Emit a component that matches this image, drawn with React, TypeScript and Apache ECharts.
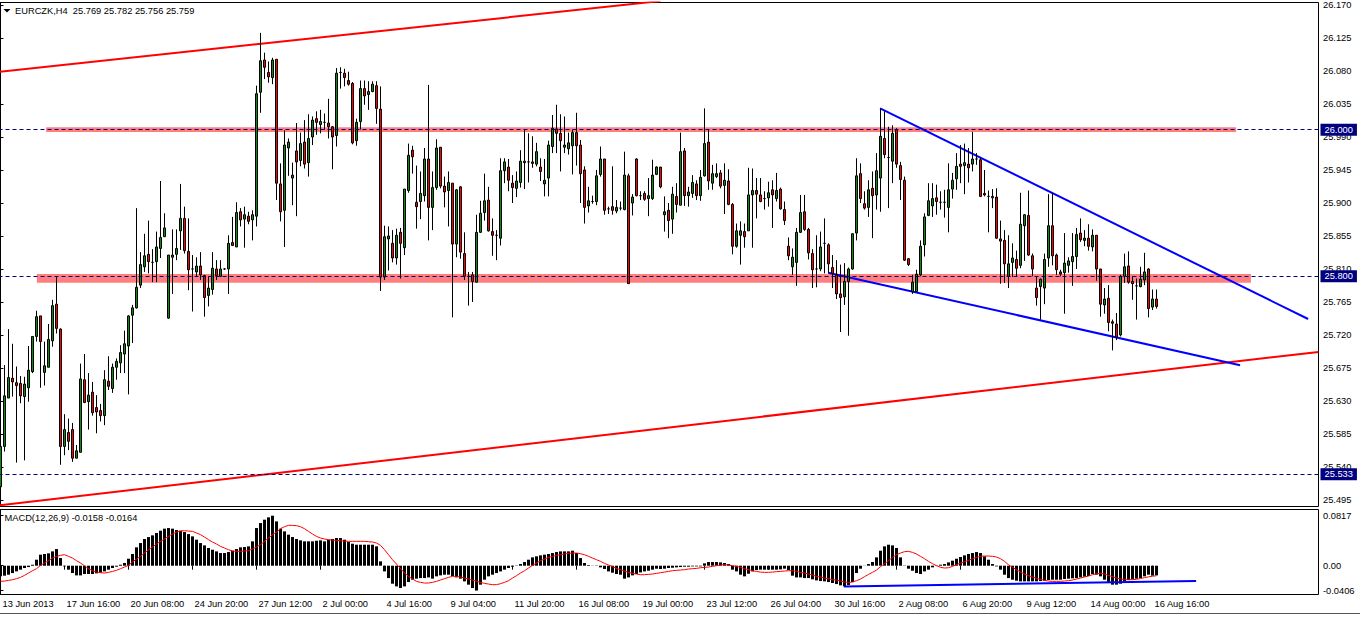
import React, { useEffect, useRef } from "react";
import * as echarts from "echarts";

const SYMBOL = "EURCZK,H4";

const OPEN = [
  25.513,25.568,25.634,25.661,25.655,25.654,25.636,25.648,25.670,25.718,
  25.746,25.669,25.676,25.712,25.762,25.728,25.568,25.587,25.591,25.552,
  25.560,25.659,25.629,25.642,25.621,25.617,25.610,25.657,25.647,25.676,
  25.682,25.694,25.705,25.747,25.757,25.788,25.813,25.830,25.819,25.820,
  25.838,25.854,25.743,25.826,25.830,25.862,25.879,25.834,25.810,25.806,
  25.814,25.801,25.774,25.782,25.810,25.800,25.810,25.810,25.846,25.840,
  25.888,25.878,25.882,25.877,25.882,26.051,26.095,26.078,26.071,26.096,
  25.926,25.890,25.975,25.934,25.971,25.958,25.983,25.955,25.990,26.015,
  26.007,26.010,26.009,26.004,25.992,26.078,26.077,26.067,26.063,25.985,
  26.011,26.056,26.048,26.052,26.060,26.028,25.799,25.851,25.845,25.825,
  25.860,25.839,25.917,25.972,25.901,25.902,25.910,25.960,25.894,25.921,
  25.976,25.923,25.917,25.927,25.844,25.922,25.831,25.800,25.802,25.792,
  25.860,25.887,25.904,25.861,25.856,25.852,25.944,25.949,25.927,25.920,
  25.928,25.955,25.956,25.956,25.953,25.949,25.926,25.934,25.977,26.001,
  25.995,25.976,25.974,25.978,25.996,25.979,25.945,25.896,25.902,25.902,
  25.939,25.960,25.892,25.895,25.889,25.893,25.891,25.937,25.900,25.960,
  25.910,25.913,25.906,25.906,25.939,25.949,25.884,25.890,25.878,25.909,
  25.897,25.971,25.910,25.913,25.926,25.910,25.937,25.983,25.927,25.936,
  25.941,25.924,25.930,25.898,25.841,25.856,25.861,25.862,25.911,25.917,
  25.911,25.906,25.907,25.918,25.906,25.919,25.891,25.841,25.813,25.819,
  25.860,25.888,25.864,25.831,25.810,25.810,25.845,25.843,25.812,25.802,
  25.776,25.772,25.793,25.810,25.859,25.940,25.899,25.894,25.920,25.911,
  25.934,25.988,25.962,25.957,26.000,25.951,25.931,25.824,25.779,25.779,
  25.802,25.843,25.883,25.896,25.907,25.901,25.901,25.894,25.919,25.933,
  25.953,25.951,25.953,25.953,25.960,25.959,25.913,25.909,25.909,25.908,
  25.851,25.849,25.800,25.819,25.823,25.815,25.869,25.883,25.828,25.784,
  25.786,25.784,25.825,25.869,25.829,25.806,25.805,25.815,25.820,25.827,
  25.859,25.849,25.852,25.840,25.856,25.810,25.761,25.770,25.738,25.735,
  25.720,25.800,25.814,25.793,25.787,25.786,25.795,25.810,25.758,25.769,
];

const HIGH = [
  25.600,25.679,25.728,25.708,25.677,25.664,25.663,25.705,25.718,25.753,
  25.746,25.711,25.735,25.768,25.799,25.729,25.612,25.606,25.600,25.570,
  25.681,25.694,25.668,25.656,25.638,25.626,25.672,25.691,25.681,25.688,
  25.706,25.726,25.747,25.761,25.893,25.833,25.858,25.876,25.837,25.861,
  25.930,25.886,25.829,25.864,25.864,25.926,25.895,25.879,25.829,25.826,
  25.833,25.802,25.800,25.833,25.822,25.822,25.811,25.856,25.881,25.901,
  25.893,25.895,25.888,25.890,26.060,26.132,26.105,26.093,26.098,26.096,
  25.954,25.999,25.988,25.955,26.009,25.996,26.013,26.021,26.018,26.025,
  26.027,26.022,26.042,26.005,26.084,26.085,26.083,26.079,26.065,26.015,
  26.067,26.067,26.066,26.066,26.066,26.059,25.869,25.868,25.863,25.865,
  25.866,25.919,25.981,25.978,25.951,25.943,25.975,26.061,25.943,25.987,
  25.976,25.936,25.943,25.927,25.919,25.923,25.860,25.806,25.806,25.884,
  25.903,25.940,25.922,25.879,25.863,25.961,25.961,25.960,25.938,25.943,
  25.972,26.000,25.995,25.991,25.982,25.961,25.960,25.985,26.020,26.034,
  26.021,26.018,25.996,26.000,26.023,25.986,25.950,25.922,25.910,25.945,
  25.977,25.960,25.895,25.950,25.904,25.902,25.970,25.940,25.912,25.961,
  25.916,25.916,25.934,25.959,25.950,25.949,25.909,25.900,25.922,25.927,
  25.996,25.975,25.922,25.938,25.931,25.945,26.029,26.000,25.952,25.954,
  25.945,25.954,25.946,25.900,25.872,25.875,25.872,25.948,25.947,25.934,
  25.934,25.916,25.929,25.931,25.941,25.921,25.902,25.853,25.838,25.866,
  25.911,25.911,25.866,25.837,25.856,25.861,25.879,25.845,25.829,25.822,
  25.816,25.818,25.812,25.859,25.961,25.954,25.916,25.931,25.943,25.968,
  26.029,26.025,26.004,26.006,26.002,25.956,25.936,25.825,25.802,25.809,
  25.849,25.886,25.927,25.927,25.925,25.916,25.918,25.954,25.941,25.968,
  25.979,25.981,25.975,25.997,25.968,25.962,25.945,25.917,25.919,25.920,
  25.876,25.863,25.856,25.845,25.835,25.914,25.885,25.917,25.831,25.800,
  25.797,25.831,25.912,25.914,25.831,25.809,25.859,25.826,25.859,25.866,
  25.879,25.863,25.871,25.864,25.856,25.810,25.784,25.788,25.741,25.750,
  25.802,25.831,25.834,25.800,25.797,25.813,25.832,25.811,25.782,25.782,
];

const LOW = [
  25.502,25.561,25.634,25.636,25.546,25.627,25.549,25.629,25.668,25.711,
  25.648,25.651,25.676,25.704,25.722,25.543,25.556,25.563,25.547,25.552,
  25.560,25.627,25.591,25.610,25.586,25.602,25.597,25.645,25.641,25.659,
  25.668,25.668,25.639,25.709,25.756,25.784,25.806,25.804,25.792,25.792,
  25.825,25.854,25.742,25.776,25.822,25.836,25.831,25.781,25.752,25.800,
  25.795,25.745,25.759,25.775,25.795,25.799,25.809,25.776,25.842,25.840,
  25.868,25.839,25.871,25.849,25.868,26.023,26.069,26.064,26.062,25.904,
  25.875,25.840,25.937,25.897,25.882,25.950,25.947,25.936,25.979,25.993,
  25.995,26.000,25.988,25.946,25.977,26.056,26.059,26.060,25.980,25.978,
  26.000,26.034,26.027,26.051,26.008,25.780,25.795,25.808,25.819,25.816,
  25.797,25.829,25.914,25.940,25.865,25.878,25.902,25.849,25.863,25.918,
  25.920,25.894,25.868,25.744,25.826,25.824,25.795,25.760,25.765,25.792,
  25.859,25.876,25.861,25.828,25.822,25.842,25.927,25.916,25.900,25.908,
  25.921,25.919,25.928,25.948,25.950,25.930,25.909,25.909,25.968,25.968,
  25.943,25.968,25.966,25.939,25.951,25.900,25.872,25.887,25.899,25.897,
  25.936,25.884,25.885,25.884,25.886,25.890,25.890,25.790,25.883,25.909,
  25.904,25.903,25.882,25.904,25.938,25.920,25.861,25.852,25.858,25.887,
  25.897,25.896,25.895,25.907,25.904,25.903,25.936,25.918,25.918,25.934,
  25.920,25.885,25.897,25.830,25.839,25.816,25.839,25.862,25.839,25.879,
  25.901,25.891,25.895,25.866,25.902,25.891,25.870,25.822,25.802,25.787,
  25.859,25.862,25.823,25.784,25.785,25.807,25.804,25.804,25.784,25.769,
  25.724,25.761,25.719,25.809,25.849,25.900,25.891,25.881,25.852,25.891,
  25.888,25.961,25.893,25.927,25.948,25.904,25.821,25.814,25.776,25.779,
  25.800,25.827,25.882,25.881,25.884,25.891,25.880,25.860,25.906,25.918,
  25.927,25.912,25.928,25.943,25.952,25.908,25.909,25.860,25.893,25.851,
  25.790,25.791,25.784,25.799,25.800,25.811,25.821,25.828,25.800,25.760,
  25.741,25.762,25.813,25.815,25.802,25.800,25.749,25.805,25.787,25.810,
  25.847,25.841,25.835,25.834,25.794,25.745,25.749,25.725,25.699,25.713,
  25.718,25.791,25.790,25.768,25.741,25.785,25.788,25.744,25.754,25.756,
];

const CLOSE = [
  25.568,25.637,25.662,25.656,25.651,25.637,25.653,25.672,25.718,25.745,
  25.711,25.678,25.714,25.760,25.729,25.568,25.591,25.575,25.552,25.562,
  25.660,25.628,25.638,25.614,25.615,25.610,25.659,25.650,25.676,25.684,
  25.696,25.708,25.746,25.757,25.785,25.816,25.828,25.820,25.819,25.840,
  25.853,25.866,25.829,25.829,25.838,25.879,25.835,25.809,25.810,25.814,
  25.802,25.771,25.784,25.811,25.801,25.810,25.810,25.845,25.842,25.887,
  25.877,25.884,25.875,25.884,26.049,26.094,26.085,26.072,26.095,25.927,
  25.888,25.979,25.983,25.938,25.956,25.981,25.953,25.988,26.013,26.010,
  26.011,26.010,26.004,25.990,26.077,26.078,26.071,26.062,25.982,26.010,
  26.056,26.046,26.052,26.062,26.029,25.799,25.854,25.855,25.825,25.856,
  25.845,25.919,25.965,25.963,25.895,25.913,25.960,25.894,25.921,25.975,
  25.923,25.915,25.928,25.844,25.918,25.833,25.800,25.800,25.793,25.860,
  25.886,25.903,25.862,25.856,25.856,25.944,25.956,25.931,25.921,25.930,
  25.957,25.957,25.956,25.954,25.970,25.943,25.931,25.979,26.002,25.995,
  25.985,25.979,25.982,25.996,25.978,25.940,25.894,25.903,25.902,25.937,
  25.960,25.890,25.892,25.890,25.894,25.893,25.938,25.790,25.908,25.910,
  25.910,25.905,25.910,25.938,25.949,25.922,25.888,25.876,25.912,25.898,
  25.970,25.910,25.915,25.928,25.910,25.935,25.981,25.930,25.940,25.940,
  25.923,25.931,25.898,25.841,25.862,25.862,25.854,25.911,25.917,25.912,
  25.902,25.906,25.914,25.911,25.917,25.892,25.876,25.828,25.826,25.860,
  25.887,25.864,25.832,25.809,25.810,25.840,25.845,25.817,25.804,25.776,
  25.771,25.793,25.810,25.858,25.937,25.906,25.893,25.918,25.910,25.944,
  25.991,25.966,25.962,25.995,25.953,25.932,25.822,25.816,25.792,25.803,
  25.841,25.881,25.903,25.906,25.902,25.901,25.901,25.918,25.931,25.950,
  25.950,25.955,25.948,25.960,25.960,25.909,25.911,25.909,25.907,25.852,
  25.848,25.817,25.817,25.825,25.811,25.871,25.884,25.829,25.810,25.771,
  25.796,25.823,25.869,25.828,25.809,25.803,25.818,25.821,25.827,25.857,
  25.850,25.852,25.841,25.856,25.810,25.762,25.769,25.737,25.736,25.717,
  25.800,25.813,25.792,25.790,25.787,25.796,25.806,25.756,25.769,25.759,
];

const MACD_HIST = [
  -0.0174,-0.0163,-0.0147,-0.0120,-0.0093,-0.0065,-0.0038,-0.0022,0.0016,0.0098,
  0.0180,0.0191,0.0202,0.0234,0.0272,0.0125,-0.0011,-0.0065,-0.0120,-0.0158,
  -0.0158,-0.0136,-0.0136,-0.0136,-0.0125,-0.0114,-0.0093,-0.0065,-0.0038,-0.0016,
  0.0016,0.0044,0.0114,0.0191,0.0300,0.0370,0.0436,0.0468,0.0496,0.0534,
  0.0572,0.0605,0.0615,0.0605,0.0583,0.0572,0.0550,0.0517,0.0479,0.0425,
  0.0370,0.0332,0.0289,0.0261,0.0234,0.0207,0.0207,0.0223,0.0245,0.0272,
  0.0300,0.0305,0.0316,0.0398,0.0615,0.0697,0.0752,0.0790,0.0817,0.0724,
  0.0605,0.0561,0.0507,0.0468,0.0436,0.0414,0.0398,0.0398,0.0398,0.0408,
  0.0414,0.0398,0.0425,0.0436,0.0452,0.0452,0.0425,0.0387,0.0359,0.0343,
  0.0343,0.0343,0.0343,0.0343,0.0316,0.0071,-0.0093,-0.0202,-0.0294,-0.0338,
  -0.0365,-0.0338,-0.0267,-0.0229,-0.0212,-0.0202,-0.0202,-0.0191,-0.0212,-0.0174,
  -0.0158,-0.0147,-0.0147,-0.0169,-0.0191,-0.0212,-0.0256,-0.0310,-0.0365,-0.0406,
  -0.0310,-0.0229,-0.0174,-0.0147,-0.0120,-0.0093,-0.0065,-0.0038,-0.0016,0.0005,
  0.0027,0.0060,0.0098,0.0136,0.0153,0.0169,0.0180,0.0191,0.0207,0.0223,
  0.0234,0.0234,0.0234,0.0245,0.0207,0.0125,0.0044,0.0011,0.0003,0.0005,
  -0.0027,-0.0054,-0.0093,-0.0114,-0.0136,-0.0147,-0.0212,-0.0191,-0.0158,-0.0136,
  -0.0109,-0.0093,-0.0082,-0.0065,-0.0049,-0.0054,-0.0049,-0.0038,-0.0033,-0.0027,
  -0.0022,-0.0016,-0.0016,-0.0011,-0.0011,-0.0011,0.0038,0.0060,0.0060,0.0060,
  0.0054,0.0044,0.0027,-0.0065,-0.0093,-0.0147,-0.0174,-0.0131,-0.0093,-0.0071,
  -0.0065,-0.0065,-0.0065,-0.0065,-0.0065,-0.0060,-0.0049,-0.0071,-0.0163,-0.0191,
  -0.0191,-0.0202,-0.0202,-0.0223,-0.0240,-0.0251,-0.0256,-0.0267,-0.0283,-0.0300,
  -0.0321,-0.0338,-0.0316,-0.0267,-0.0120,-0.0049,-0.0003,0.0027,0.0060,0.0136,
  0.0245,0.0316,0.0343,0.0332,0.0289,0.0136,0.0005,-0.0049,-0.0082,-0.0120,
  -0.0136,-0.0093,-0.0065,-0.0027,-0.0005,0.0016,0.0027,0.0054,0.0082,0.0114,
  0.0142,0.0169,0.0191,0.0207,0.0223,0.0207,0.0153,0.0098,0.0027,-0.0011,
  -0.0065,-0.0147,-0.0202,-0.0229,-0.0245,-0.0256,-0.0256,-0.0256,-0.0256,-0.0256,
  -0.0251,-0.0245,-0.0234,-0.0229,-0.0229,-0.0229,-0.0218,-0.0212,-0.0207,-0.0202,
  -0.0191,-0.0180,-0.0169,-0.0136,-0.0147,-0.0174,-0.0229,-0.0283,-0.0310,-0.0310,
  -0.0294,-0.0256,-0.0234,-0.0223,-0.0212,-0.0202,-0.0174,-0.0147,-0.0163,-0.0158,
];

const MACD_SIGNAL = [
  -0.0256,-0.0251,-0.0240,-0.0229,-0.0212,-0.0191,-0.0158,-0.0120,-0.0082,-0.0049,
  0.0005,0.0044,0.0082,0.0125,0.0153,0.0169,0.0180,0.0153,0.0125,0.0082,
  0.0044,0.0000,-0.0049,-0.0082,-0.0104,-0.0114,-0.0120,-0.0109,-0.0093,-0.0076,
  -0.0049,-0.0022,0.0005,0.0060,0.0109,0.0153,0.0207,0.0261,0.0305,0.0354,
  0.0398,0.0436,0.0479,0.0517,0.0550,0.0566,0.0572,0.0566,0.0561,0.0534,
  0.0507,0.0468,0.0425,0.0387,0.0354,0.0316,0.0289,0.0261,0.0240,0.0234,
  0.0234,0.0240,0.0245,0.0272,0.0305,0.0343,0.0398,0.0452,0.0507,0.0550,
  0.0605,0.0637,0.0659,0.0659,0.0654,0.0637,0.0605,0.0561,0.0517,0.0479,
  0.0452,0.0436,0.0425,0.0419,0.0414,0.0408,0.0403,0.0398,0.0398,0.0398,
  0.0398,0.0398,0.0392,0.0387,0.0370,0.0332,0.0261,0.0180,0.0098,0.0027,
  -0.0049,-0.0120,-0.0174,-0.0218,-0.0256,-0.0272,-0.0283,-0.0283,-0.0272,-0.0256,
  -0.0234,-0.0212,-0.0191,-0.0174,-0.0174,-0.0185,-0.0202,-0.0218,-0.0234,-0.0256,
  -0.0272,-0.0289,-0.0300,-0.0310,-0.0310,-0.0294,-0.0272,-0.0245,-0.0202,-0.0163,
  -0.0120,-0.0082,-0.0038,0.0005,0.0044,0.0082,0.0109,0.0136,0.0153,0.0169,
  0.0180,0.0191,0.0202,0.0207,0.0207,0.0196,0.0180,0.0153,0.0125,0.0098,
  0.0071,0.0038,0.0011,-0.0016,-0.0044,-0.0065,-0.0087,-0.0109,-0.0125,-0.0136,
  -0.0147,-0.0147,-0.0142,-0.0136,-0.0125,-0.0114,-0.0104,-0.0093,-0.0082,-0.0076,
  -0.0071,-0.0065,-0.0054,-0.0049,-0.0044,-0.0033,-0.0027,-0.0022,-0.0011,0.0000,
  0.0011,0.0016,0.0011,0.0000,-0.0011,-0.0027,-0.0049,-0.0065,-0.0082,-0.0093,
  -0.0104,-0.0109,-0.0109,-0.0104,-0.0098,-0.0093,-0.0087,-0.0082,-0.0082,-0.0093,
  -0.0109,-0.0120,-0.0136,-0.0153,-0.0174,-0.0185,-0.0202,-0.0212,-0.0229,-0.0234,
  -0.0251,-0.0267,-0.0272,-0.0267,-0.0245,-0.0218,-0.0180,-0.0142,-0.0109,-0.0071,
  -0.0016,0.0033,0.0082,0.0136,0.0180,0.0207,0.0229,0.0234,0.0218,0.0191,
  0.0153,0.0114,0.0071,0.0033,0.0000,-0.0027,-0.0038,-0.0033,-0.0011,0.0016,
  0.0044,0.0065,0.0087,0.0114,0.0136,0.0153,0.0158,0.0158,0.0153,0.0142,
  0.0114,0.0071,0.0016,-0.0027,-0.0065,-0.0104,-0.0136,-0.0163,-0.0185,-0.0207,
  -0.0223,-0.0240,-0.0251,-0.0256,-0.0256,-0.0256,-0.0251,-0.0245,-0.0234,-0.0218,
  -0.0202,-0.0185,-0.0169,-0.0147,-0.0131,-0.0125,-0.0136,-0.0158,-0.0180,-0.0202,
  -0.0215,-0.0225,-0.0230,-0.0228,-0.0222,-0.0210,-0.0195,-0.0182,-0.0172,-0.0164,
];

// Date labels shown every 16 bars on the time axis
const DATE_LABELS = [
  "13 Jun 2013", "17 Jun 16:00", "20 Jun 08:00", "24 Jun 20:00", "27 Jun 12:00",
  "2 Jul 00:00", "4 Jul 16:00", "9 Jul 04:00", "11 Jul 20:00", "16 Jul 08:00",
  "19 Jul 00:00", "23 Jul 12:00", "26 Jul 04:00", "30 Jul 16:00", "2 Aug 08:00",
  "6 Aug 20:00", "9 Aug 12:00", "14 Aug 00:00", "16 Aug 16:00",
];
const LABEL_EVERY = 16;

const PRICE_TICKS = [
  26.170, 26.125, 26.080, 26.035, 25.990, 25.945, 25.900, 25.855,
  25.810, 25.765, 25.720, 25.675, 25.630, 25.585, 25.540, 25.495,
];
const MACD_TICKS = [0.0817, 0, -0.0406];

// horizontal levels (dashed) and the last price tag
const LEVELS = [26.0, 25.8, 25.533];
const LAST_PRICE = 25.759;

// highlighted zones: [fromBar, toBar, low, high]
const ZONES = [
  [11.4, 308.9, 25.9968, 26.0034],
  [9.1, 312.6, 25.7913, 25.803],
];

// trend lines as [bar, price] pairs
const RED_UPPER = [[-0.5, 26.0787], [165, 26.1754]];
const RED_LOWER = [[-0.5, 25.4876], [329.5, 25.6969]];
const BLUE_UPPER = [[219.9, 26.0291], [326.9, 25.7418]];
const BLUE_LOWER = [[206.95, 25.8049], [309.9, 25.6788]];
const MACD_TREND = [[210.85, -0.034], [298.9, -0.025]];

const SLOTS = 330;
const PRICE_MIN = 25.4861;
const PRICE_MAX = 26.1734;
const MACD_MIN = -0.04706;
const MACD_MAX = 0.09183;

const FONT = '"Liberation Sans", Arial, sans-serif';
const FS = 9.3;

export default function App() {
  const ref = useRef<HTMLDivElement>(null);

  useEffect(() => {
    const chart = echarts.init(ref.current!, null, { renderer: "svg" });
    const cats = Array.from({ length: SLOTS }, (_, i) => String(i));
    const candles = OPEN.map((o, i) => [o, CLOSE[i], LOW[i], HIGH[i]]);
    const n = OPEN.length - 1;
    const labelInterval = (i: number) =>
      i % LABEL_EVERY === 0 && i / LABEL_EVERY < DATE_LABELS.length;

    const levelLabel = (bg: string) => ({
      show: true,
      position: "end",
      distance: 2,
      color: "#fff",
      backgroundColor: bg,
      padding: [1, 4, 1, 4],
      fontSize: FS,
      lineHeight: 10,
      fontFamily: FONT,
    });

    const gridBase = {
      left: -1.5, width: 1320, show: true, borderColor: "#000", borderWidth: 1,
      backgroundColor: "transparent", containLabel: false, outerBoundsMode: "none",
    };

    chart.setOption({
      animation: false,
      backgroundColor: "#fff",
      grid: [
        { ...gridBase, top: 2.5, height: 504 },
        { ...gridBase, top: 509.5, height: 85 },
      ],
      xAxis: [
        { type: "category", gridIndex: 0, data: cats, boundaryGap: true, axisLine: { show: false }, axisTick: { show: false }, axisLabel: { show: false }, splitLine: { show: false } },
        {
          type: "category", gridIndex: 1, data: cats, boundaryGap: true,
          axisLine: { show: false },
          axisTick: { show: true, interval: labelInterval, alignWithLabel: true, length: 4, lineStyle: { color: "#000" } },
          axisLabel: {
            interval: labelInterval,
            formatter: (_v: string, i: number) => DATE_LABELS[i / LABEL_EVERY] ?? "",
            align: "left", margin: 5, color: "#000", fontSize: FS, fontFamily: FONT, padding: [0, 0, 0, 2],
          },
          splitLine: { show: false },
        },
        { type: "value", gridIndex: 0, min: -0.5, max: SLOTS - 0.5, show: false, splitLine: { show: false } },
        { type: "value", gridIndex: 1, min: -0.5, max: SLOTS - 0.5, show: false, splitLine: { show: false } },
      ],
      yAxis: [
        {
          type: "value", gridIndex: 0, position: "right", min: PRICE_MIN, max: PRICE_MAX,
          splitLine: { show: false },
          axisLine: { show: true, lineStyle: { color: "#000" } },
          axisTick: { show: true, length: 3, customValues: PRICE_TICKS, lineStyle: { color: "#000" } },
          axisLabel: { customValues: PRICE_TICKS, formatter: (v: number) => v.toFixed(3), color: "#000", fontSize: FS, fontFamily: FONT, margin: 4.5 },
        },
        {
          type: "value", gridIndex: 1, position: "right", min: MACD_MIN, max: MACD_MAX,
          splitLine: { show: false },
          axisLine: { show: true, lineStyle: { color: "#000" } },
          axisTick: { show: true, length: 3, customValues: MACD_TICKS, lineStyle: { color: "#000" } },
          axisLabel: { customValues: MACD_TICKS, formatter: (v: number) => (v === 0 ? "0.00" : v.toFixed(4)), color: "#000", fontSize: FS, fontFamily: FONT, margin: 4.5 },
        },
      ],
      series: [
        {
          name: "levels", type: "line", xAxisIndex: 2, yAxisIndex: 0, data: [], z: 1,
          markLine: {
            silent: true, symbol: "none", animation: false,
            data: [
              ...LEVELS.map((v) => ({
                yAxis: v,
                lineStyle: { color: "#000080", type: [4, 3], width: 1 },
                label: { ...levelLabel("#000080"), formatter: v.toFixed(3) },
              })),
              {
                yAxis: LAST_PRICE,
                lineStyle: { color: "#000", width: 0, opacity: 0 },
                label: { ...levelLabel("#000"), formatter: LAST_PRICE.toFixed(3) },
              },
            ],
          },
        },
        { name: "redUpper", type: "line", xAxisIndex: 2, yAxisIndex: 0, data: RED_UPPER, symbol: "none", clip: true, lineStyle: { color: "#ff0000", width: 2 }, z: 2 },
        { name: "redLower", type: "line", xAxisIndex: 2, yAxisIndex: 0, data: RED_LOWER, symbol: "none", clip: true, lineStyle: { color: "#ff0000", width: 2 }, z: 2 },
        { name: "blueUpper", type: "line", xAxisIndex: 2, yAxisIndex: 0, data: BLUE_UPPER, symbol: "none", clip: true, lineStyle: { color: "#0000ff", width: 2 }, z: 2 },
        { name: "blueLower", type: "line", xAxisIndex: 2, yAxisIndex: 0, data: BLUE_LOWER, symbol: "none", clip: true, lineStyle: { color: "#0000ff", width: 2 }, z: 2 },
        {
          name: "zones", type: "line", xAxisIndex: 2, yAxisIndex: 0, data: [], z: 3,
          markArea: {
            silent: true,
            itemStyle: { color: "rgba(255,0,0,0.5)" },
            data: ZONES.map(([x0, x1, y0, y1]) => [{ xAxis: x0, yAxis: y1 }, { xAxis: x1, yAxis: y0 }]),
          },
        },
        {
          name: SYMBOL, type: "candlestick", xAxisIndex: 0, yAxisIndex: 0, data: candles, barWidth: 2, z: 4,
          itemStyle: { color: "#0c8c0c", color0: "#ff0000", borderColor: "#000", borderColor0: "#000", borderColorDoji: "#000", borderWidth: 1 },
        },
        { name: "MACD", type: "bar", xAxisIndex: 1, yAxisIndex: 1, data: MACD_HIST, barWidth: 3, itemStyle: { color: "#000" }, z: 2 },
        { name: "Signal", type: "line", xAxisIndex: 1, yAxisIndex: 1, data: MACD_SIGNAL, symbol: "none", lineStyle: { color: "#ff0000", width: 1 }, z: 3 },
        { name: "macdTrend", type: "line", xAxisIndex: 3, yAxisIndex: 1, data: MACD_TREND, symbol: "none", lineStyle: { color: "#0000ff", width: 2 }, z: 4 },
      ],
      graphic: [
        { type: "polygon", shape: { points: [[3.5, 9], [10.5, 9], [7, 12.5]] }, style: { fill: "#000" } },
        {
          type: "text", x: 15, y: 11,
          style: {
            text: `${SYMBOL}\u00a0\u00a0${[OPEN[n], HIGH[n], LOW[n], CLOSE[n]].map((v) => v.toFixed(3)).join(" ")}`,
            fill: "#000", fontSize: FS, fontFamily: FONT, verticalAlign: "middle",
          },
        },
        {
          type: "text", x: 4.5, y: 518,
          style: {
            text: `MACD(12,26,9) ${MACD_HIST[n].toFixed(4)} ${MACD_SIGNAL[n].toFixed(4)}`,
            fill: "#000", fontSize: FS, fontFamily: FONT, verticalAlign: "middle",
          },
        },
        { type: "line", shape: { x1: 0, y1: 613.5, x2: 1360, y2: 613.5 }, style: { stroke: "#555", lineWidth: 1 } },
      ],
    });

    return () => chart.dispose();
  }, []);

  return (
    <div
      ref={ref}
      style={{ position: "fixed", left: 0, top: 0, width: 1360, height: 617, background: "#fff" }}
    />
  );
}
